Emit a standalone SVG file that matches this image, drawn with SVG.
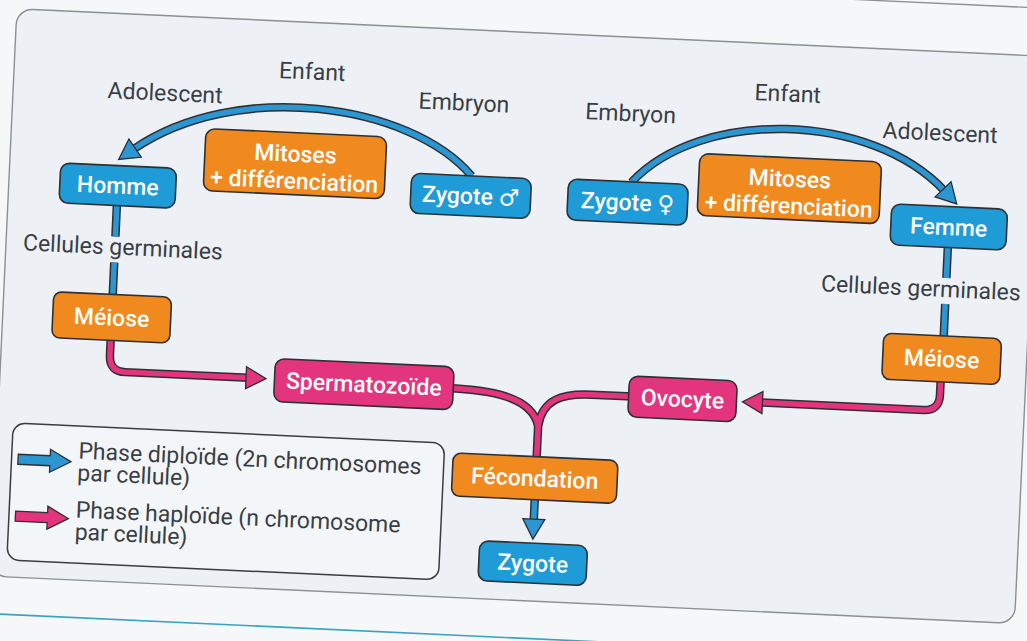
<svg xmlns="http://www.w3.org/2000/svg" width="1027" height="641" viewBox="0 0 1027 641">
<defs>
<style>
.bg{fill:#f6f7f9}
.frame{fill:#edf1f6;stroke:#8c8f93;stroke-width:1.4}
.pageline{stroke:#8c8f93;stroke-width:1.3;fill:none}
.teal{stroke:#3aa3bf;stroke-width:1.6;fill:none}
.box{stroke:#2e3034;stroke-width:1.6}
.blue{fill:#1f9bd7}
.orange{fill:#f08a1e}
.pink{fill:#e2357d}
.nt{font-family:Roboto,"DejaVu Sans",sans-serif;font-size:23px;font-weight:500;fill:#ffffff;text-anchor:middle}
.lt{font-family:Roboto,"DejaVu Sans",sans-serif;font-size:23px;fill:#3a3e44;text-anchor:middle}
.leg{font-family:Roboto,"DejaVu Sans",sans-serif;font-size:23px;fill:#3a3e44}
.out{fill:none;stroke:#2e3034;stroke-width:8.5;stroke-linejoin:round}
.cb{fill:none;stroke:#2b96d1;stroke-width:5.5;stroke-linejoin:round}
.cp{fill:none;stroke:#e2357d;stroke-width:5.5;stroke-linejoin:round}
.legbox{fill:#f3f6f9;stroke:#3a3d40;stroke-width:1.5}
</style>
<marker id="mb" viewBox="-4 -15 30 30" markerWidth="30" markerHeight="30" refX="2" refY="0" orient="auto" markerUnits="userSpaceOnUse">
<path d="M0,-11 L20,0 L0,11 Z" fill="#2b96d1" stroke="#2e3034" stroke-width="1.3"/>
</marker>
<marker id="mp" viewBox="-4 -15 30 30" markerWidth="30" markerHeight="30" refX="2" refY="0" orient="auto" markerUnits="userSpaceOnUse">
<path d="M0,-11 L20,0 L0,11 Z" fill="#e2357d" stroke="#2e3034" stroke-width="1.3"/>
</marker>
</defs>
<rect class="bg" x="0" y="0" width="1027" height="641"/>
<g transform="rotate(2.65 513 320)">
<line class="pageline" x1="-40" y1="-16" x2="1100" y2="-16"/>
<rect class="frame" x="3" y="32" width="1025" height="568" rx="16"/>
<line class="teal" x1="-40" y1="637.5" x2="1100" y2="637.5"/>

<g id="connectors">
<path class="out" d="M465,178 C400,108 225,92 126,167"/>
<path class="cb" d="M465,178 C400,108 225,92 126,167" marker-end="url(#mb)"/>
<path class="out" d="M625,177 C690,100 860,95 938,171"/>
<path class="cb" d="M625,177 C690,100 860,95 938,171" marker-end="url(#mb)"/>
<path class="out" d="M112,210 L112,255 M112,281 L112,330"/>
<path class="cb" d="M112,210 L112,255 M112,281 L112,330"/>
<path class="out" d="M944,213 L944,258 M944,284 L944,333"/>
<path class="cb" d="M944,213 L944,258 M944,284 L944,333"/>
<path class="out" d="M112,345 L112,374 Q112,390 128,390 L251,390"/>
<path class="cp" d="M112,345 L112,374 Q112,390 128,390 L251,390" marker-end="url(#mp)"/>
<path class="out" d="M943,348 L943,375 Q943,391 927,391 L764,391"/>
<path class="cp" d="M943,348 L943,375 Q943,391 927,391 L764,391" marker-end="url(#mp)"/>
<path class="out" d="M450,391 C492,391 536,395 543,425 L543,462 M636,391 L595,391 C565,391 546,398 543,425"/>
<path class="cp" d="M450,391 C492,391 536,395 543,425 L543,462 M636,391 L595,391 C565,391 546,398 543,425"/>
<path class="out" d="M543,492 L543,520"/>
<path class="cb" d="M543,492 L543,520" marker-end="url(#mb)"/>
</g>

<g id="labels">
<text class="lt" x="301" y="89">Enfant</text>
<text class="lt" x="155" y="117">Adolescent</text>
<text class="lt" x="454" y="113">Embryon</text>
<text class="lt" x="621" y="116">Embryon</text>
<text class="lt" x="777" y="89">Enfant</text>
<text class="lt" x="931" y="121">Adolescent</text>
<text class="lt" x="120" y="273">Cellules germinales</text>
<text class="lt" x="919" y="277">Cellules germinales</text>
</g>

<g id="homme"><rect class="box blue" x="54" y="184" width="116" height="40" rx="9"/><text class="nt" x="112" y="212">Homme</text></g>
<g id="mitoses-m"><rect class="box orange" x="197.5" y="143" width="181" height="62" rx="9"/><text class="nt" x="288" y="172">Mitoses</text><text class="nt" x="288" y="199">+ différenciation</text></g>
<g id="zygote-m"><rect class="box blue" x="405" y="178" width="120" height="40" rx="9"/><text class="nt" x="465" y="206">Zygote ♂</text></g>
<g id="zygote-f"><rect class="box blue" x="562" y="176.5" width="120" height="41" rx="9"/><text class="nt" x="622" y="205">Zygote ♀</text></g>
<g id="mitoses-f"><rect class="box orange" x="692" y="145" width="182" height="62" rx="9"/><text class="nt" x="783" y="174">Mitoses</text><text class="nt" x="783" y="201">+ différenciation</text></g>
<g id="femme"><rect class="box blue" x="886" y="186.5" width="116" height="41" rx="9"/><text class="nt" x="944" y="215">Femme</text></g>
<g id="meiose-m"><rect class="box orange" x="53" y="313" width="118" height="46" rx="8"/><text class="nt" x="112" y="344">Méiose</text></g>
<g id="meiose-f"><rect class="box orange" x="884" y="316" width="118" height="46" rx="8"/><text class="nt" x="943" y="347">Méiose</text></g>
<g id="spermatozoide"><rect class="box pink" x="277.5" y="369.5" width="179" height="43" rx="9"/><text class="nt" x="367" y="399">Spermatozoïde</text></g>
<g id="ovocyte"><rect class="box pink" x="632" y="370.5" width="108" height="41" rx="9"/><text class="nt" x="686" y="399">Ovocyte</text></g>
<g id="fecondation"><rect class="box orange" x="459.5" y="455.5" width="165" height="43" rx="8"/><text class="nt" x="542" y="485">Fécondation</text></g>
<g id="zygote"><rect class="box blue" x="490" y="542" width="108" height="40" rx="9"/><text class="nt" x="544" y="570">Zygote</text></g>

<g id="legend">
<rect class="legbox" x="18.5" y="446" width="432" height="137" rx="12"/>
<path d="M25,477 L57,477 L57,470.5 L78,482 L57,493.5 L57,487 L25,487 Z" fill="#2b96d1" stroke="#2e3034" stroke-width="1.3"/>
<path d="M25,534 L57,534 L57,527.5 L78,539 L57,550.5 L57,544 L25,544 Z" fill="#e2357d" stroke="#2e3034" stroke-width="1.3"/>
<text class="leg" x="85" y="478.5">Phase diploïde (2n chromosomes</text>
<text class="leg" x="85" y="500.5">par cellule)</text>
<text class="leg" x="85" y="537.5">Phase haploïde (n chromosome</text>
<text class="leg" x="85" y="559.5">par cellule)</text>
</g>
</g>
</svg>
